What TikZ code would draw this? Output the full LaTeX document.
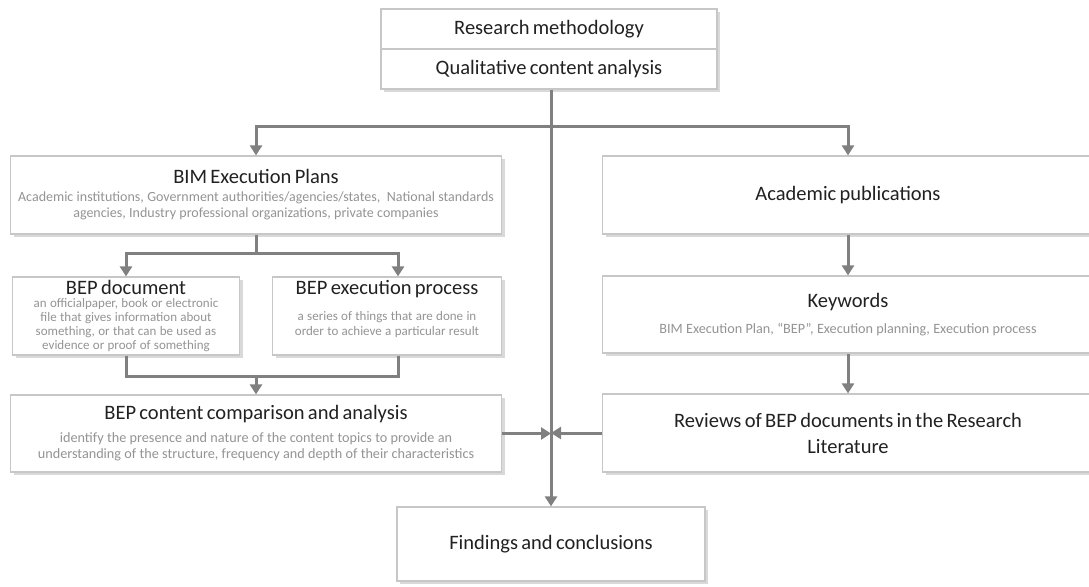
\documentclass[tikz,border=0pt]{standalone}
\usepackage{fontspec}
\setmainfont{Carlito}
\usetikzlibrary{arrows.meta,shadows}

\definecolor{boxgray}{gray}{0.78}
\definecolor{linegray}{gray}{0.5}
\definecolor{titlegray}{gray}{0.13}
\definecolor{textgray}{gray}{0.58}

\newcommand{\blocktitle}[1]{{\fontsize{20.5}{26}\selectfont\color{titlegray}#1\par}}
\newcommand{\blocktext}[1]{{\fontsize{14.2}{16.5}\selectfont\color{textgray}#1\par}}
\newcommand{\smalltext}[1]{{\fontsize{13}{14.2}\selectfont\color{textgray}#1\par}}

\tikzstyle{block} = [rectangle, draw=boxgray, line width=1.2pt, fill=white, align=center, inner sep=0.5pt, drop shadow={shadow xshift=3pt, shadow yshift=-3pt, opacity=0.3}]
\tikzstyle{wideblock} = [block, minimum width=491pt, text width=490pt, minimum height=78pt]
\tikzstyle{smallblock} = [block, minimum width=227pt, text width=226pt, minimum height=78pt]
\tikzstyle{topblock} = [block, minimum width=336pt, text width=330pt, minimum height=40pt]
\tikzstyle{link} = [draw=linegray, line width=3pt]
\tikzstyle{flow} = [link, -{Triangle[length=10pt,width=12pt]}]

\begin{document}
\begin{tikzpicture}[x=1pt, y=-1pt]
   \useasboundingbox (0,0) rectangle (1089,586);
   % nodes
   \node[topblock] (rm)   at (549,29)    {\blocktitle{Research methodology}};
   \node[topblock] (qca)  at (549,69)    {\blocktitle{Qualitative content analysis}};
   \node[wideblock] (bim) at (256,195)   {\blocktitle{BIM Execution Plans}\vspace{2pt}
      {\fontsize{14}{16}\selectfont\color{textgray}Academic institutions, Government authorities/agencies/states,\ \ National standards\\ agencies, Industry professional\ organizations, private companies\par}};
   \node[wideblock] (acad) at (848,195)  {\blocktitle{Academic publications}};
   \node[smallblock] (doc) at (126,316)  {\blocktitle{BEP document}\vspace{-1pt}
      \smalltext{an officialpaper, book or electronic\\ file that gives information about\\ something, or that can be used as\\ evidence or proof of something}};
   \node[smallblock, minimum width=229pt] (exec) at (387,316) {\blocktitle{BEP execution process}\vspace{11pt}
      {\fontsize{13}{15}\selectfont\color{textgray}a series of things that are done in\\ order to achieve a particular result\par}\rule{0pt}{14pt}};
   \node[wideblock, minimum height=77pt] (cmp) at (256,433.5) {\blocktitle{BEP content comparison and analysis}\vspace{6pt}
      \blocktext{identify the presence and nature of the content topics to provide\ an\\ understanding of the structure, frequency and depth of their characteristics}};
   \node[wideblock, minimum height=77pt] (kw) at (848,314.5) {\blocktitle{Keywords}\vspace{10pt}
      \blocktext{BIM Execution Plan, “BEP”, Execution planning, Execution process}};
   \node[wideblock] (rev) at (848,433)   {\blocktitle{Reviews of BEP documents in the Research\\ Literature}};
   \node[block, minimum width=308pt, text width=300pt, minimum height=74pt] (fc) at (551,544) {\blocktitle{Findings and conclusions}};

   % edges
   \draw[flow] (qca.south -| fc.north) -- (fc.north);
   \coordinate (split) at (551,126);
   \draw[flow] (split) -| (bim.north);
   \draw[flow] (split) -| (acad.north);
   \draw[link] (bim.south) -- ++(0,19) coordinate (fork);
   \draw[flow] (fork) -| (doc.north);
   \draw[flow] (fork) -| ([xshift=11pt]exec.north);
   \draw[link] (doc.south) |- (cmp.north |- 0,376) coordinate (join);
   \draw[link] ([xshift=11pt]exec.south) |- (join);
   \draw[flow] (join) -- (cmp.north);
   \draw[flow] (acad) -- (kw);
   \draw[flow] (kw) -- (rev);
   \draw[flow] (cmp.east) -- (cmp.east -| fc.north);
   \draw[flow] (rev.west) -- (rev.west -| fc.north);
\end{tikzpicture}
\end{document}
